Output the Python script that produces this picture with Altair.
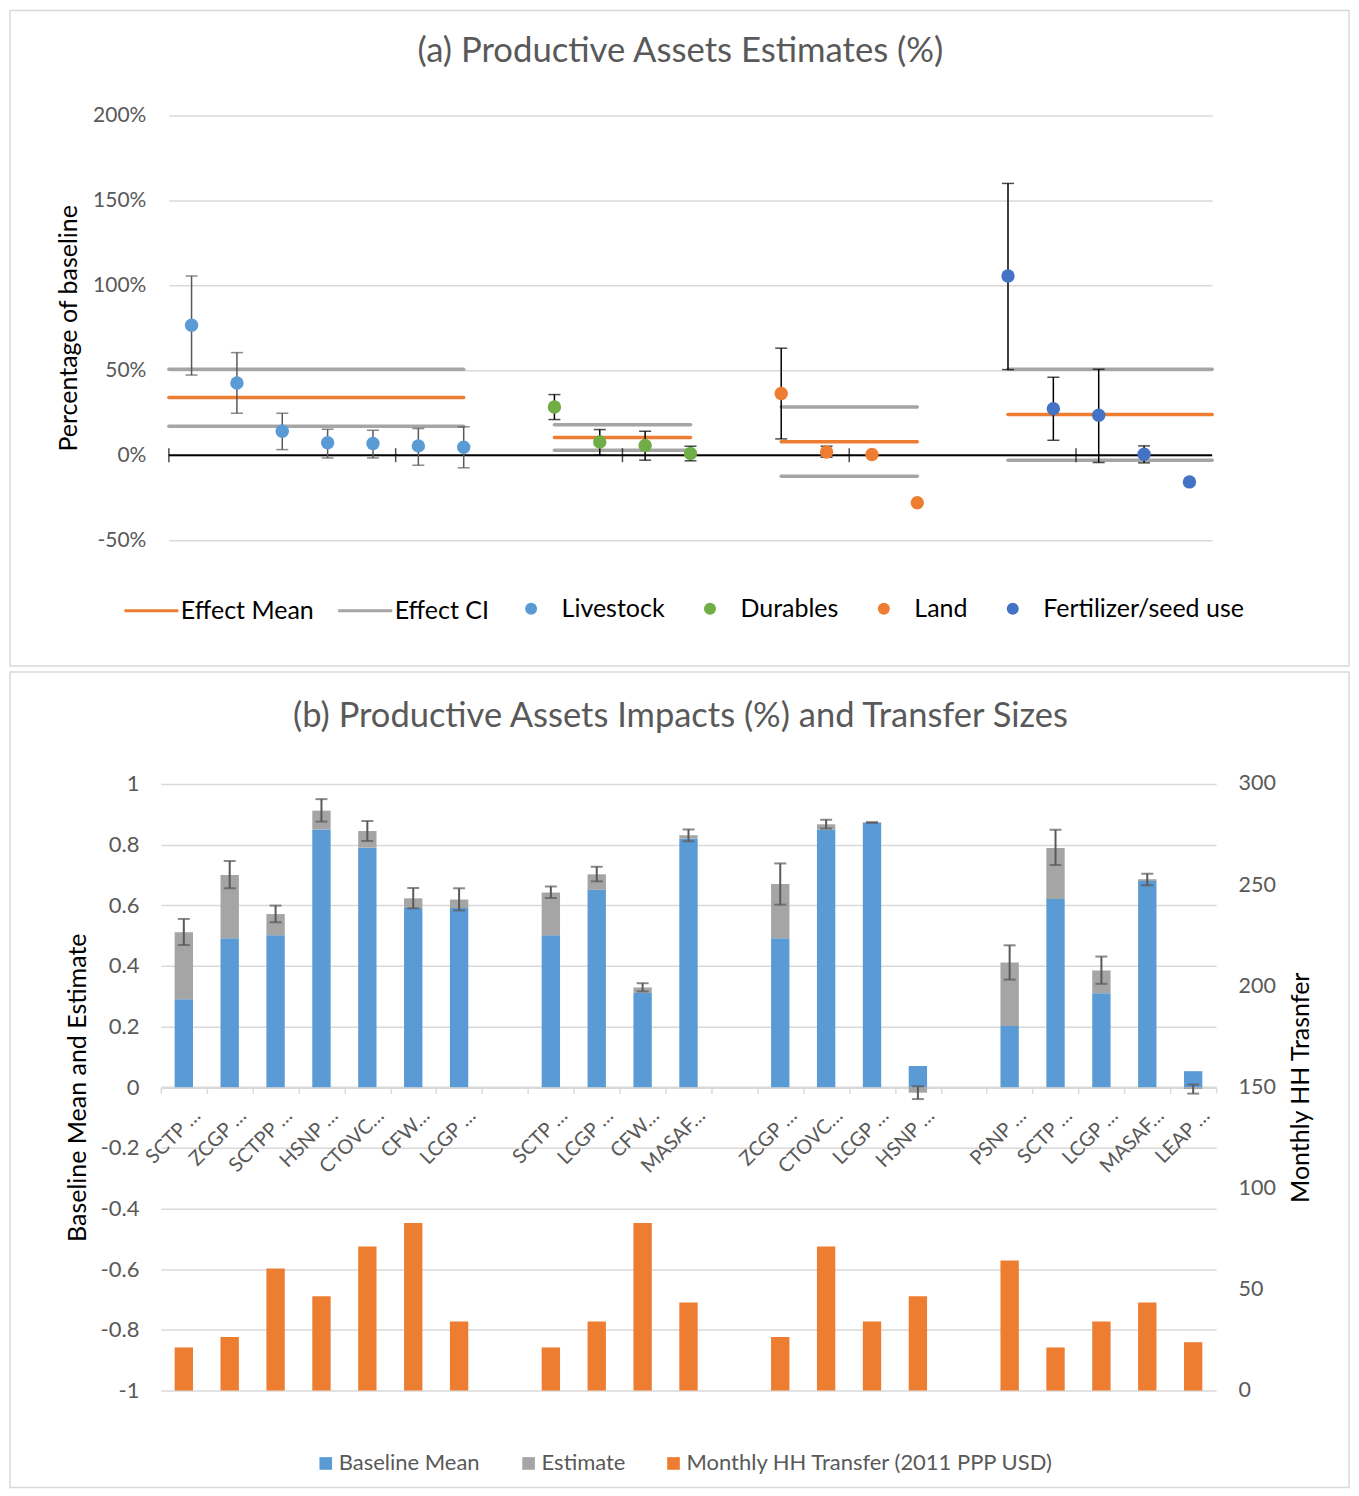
import altair as alt
import pandas as pd

FONT = "Lato"
TXT = "#595959"
GRID = "#D9D9D9"

# ---------------- Panel (a) data ----------------
series_names = ["Livestock", "Durables", "Land", "Fertilizer/seed use"]
series_colors = ["#5B9BD5", "#70AD47", "#ED7D31", "#4472C4"]
series_slots = [[0, 1, 2, 3, 4, 5, 6], [8, 9, 10, 11], [13, 14, 15, 16], [18, 19, 20, 21, 22]]

livestock = [76.5, 42.5, 14.1, 7.3, 6.9, 5.5, 4.7]
livestock_lo = [47.2, 24.7, 3.3, -1.6, -1.6, -5.9, -7.4]
livestock_hi = [105.5, 60.4, 24.7, 15.3, 14.7, 15.7, 16.7]

durables = [28.4, 7.8, 5.7, 1.0]
durables_lo = [21.0, 0.0, -2.9, -3.3]
durables_hi = [35.7, 15.1, 14.1, 5.3]

land = [36.3, 1.9, 0.4, -28.0]
land_lo = [9.6, -1.2, None, None]
land_hi = [63.0, 5.3, None, None]

fert = [105.5, 27.4, 23.5, 0.6, -15.7]
fert_lo = [50.4, 8.8, -4.3, -4.5, None]
fert_hi = [160.0, 45.9, 50.6, 5.5, None]

effect_start = [0.0, 8.5, 13.5, 18.5]
effect_end = [6.5, 11.5, 16.5, 23.0]
effect_mean = [34.0, 10.4, 8.0, 23.9]
effect_ci_lo = [17.0, 2.9, -12.4, -3.0]
effect_ci_hi = [50.6, 18.0, 28.4, 50.6]

a_ticks = [-50, 0, 50, 100, 150, 200]
zero_tick_slots = [0, 5, 10, 15, 20]

title_a = "(a) Productive Assets Estimates (%)"
title_b = "(b) Productive Assets Impacts (%) and Transfer Sizes"

# ---------------- Panel (b) data ----------------
cat_labels = ["SCTP …", "ZCGP …", "SCTPP …", "HSNP …", "CTOVC…", "CFW…", "LCGP …", "",
              "SCTP …", "LCGP …", "CFW…", "MASAF…", "",
              "ZCGP …", "CTOVC…", "LCGP …", "HSNP …", "",
              "PSNP …", "SCTP …", "LCGP …", "MASAF…", "LEAP …"]
bar_slots = [0, 1, 2, 3, 4, 5, 6, 8, 9, 10, 11, 13, 14, 15, 16, 18, 19, 20, 21, 22]
baseline = [0.290, 0.491, 0.501, 0.850, 0.790, 0.591, 0.591,
            0.501, 0.651, 0.311, 0.820,
            0.491, 0.850, 0.873, 0.070,
            0.202, 0.621, 0.310, 0.680, 0.053]
estimate = [0.221, 0.209, 0.070, 0.062, 0.055, 0.032, 0.028,
            0.141, 0.051, 0.018, 0.011,
            0.179, 0.017, 0.001, -0.018,
            0.209, 0.168, 0.075, 0.006, -0.006]
err_lo = [0.469, 0.656, 0.544, 0.876, 0.812, 0.590, 0.583,
          0.624, 0.679, 0.316, 0.811,
          0.602, 0.853, 0.872, -0.039,
          0.355, 0.733, 0.341, 0.666, -0.021]
err_hi = [0.555, 0.746, 0.599, 0.950, 0.878, 0.657, 0.656,
          0.662, 0.727, 0.343, 0.850,
          0.738, 0.882, 0.874, 0.003,
          0.468, 0.849, 0.431, 0.704, 0.009]
transfer = [21.3, 26.5, 60.3, 46.6, 71.2, 82.9, 34.1,
            21.3, 34.1, 82.9, 43.5,
            26.5, 71.2, 34.1, 46.6,
            64.3, 21.3, 34.1, 43.5, 23.9]
left_ticks = [-1, -0.8, -0.6, -0.4, -0.2, 0, 0.2, 0.4, 0.6, 0.8, 1]
right_ticks = [0, 50, 100, 150, 200, 250, 300]
b_series = ["Baseline Mean", "Estimate", "Monthly HH Transfer (2011 PPP USD)"]
b_colors = ["#5B9BD5", "#A5A5A5", "#ED7D31"]

# ---------------- build tables ----------------
rows = []
for name, slots, vals, los, his in zip(
        series_names, series_slots,
        [livestock, durables, land, fert],
        [livestock_lo, durables_lo, land_lo, fert_lo],
        [livestock_hi, durables_hi, land_hi, fert_hi]):
    for s, v, lo, hi in zip(slots, vals, los, his):
        rows.append({"series": name, "x": s + 0.5, "value": v, "lo": lo, "hi": hi})
pts = pd.DataFrame(rows)

eff_rows = []
for s, e, m, lo, hi in zip(effect_start, effect_end, effect_mean, effect_ci_lo, effect_ci_hi):
    eff_rows.append({"kind": "Effect CI", "xs": s, "xe": e, "v": lo})
    eff_rows.append({"kind": "Effect CI", "xs": s, "xe": e, "v": hi})
    eff_rows.append({"kind": "Effect Mean", "xs": s, "xe": e, "v": m})
eff = pd.DataFrame(eff_rows)

zero_df = pd.DataFrame({"xs": [0], "xe": [23], "v": [0]})
zt_df = pd.DataFrame({"xs": zero_tick_slots, "v": [0] * len(zero_tick_slots)})
one = pd.DataFrame({"t": [title_a]})
one_b = pd.DataFrame({"t": [title_b]})

W_A, H_A = 1044, 425
W_B, H_B = 1048, 607   # panel (b) shares panel (a)'s left origin; its band range starts 8px further left

ya_axis = alt.Axis(values=a_ticks, labelExpr="datum.value + '%'", grid=True, gridColor=GRID,
                   gridWidth=1.5, domain=False, ticks=False, labelPadding=23, labelFontSize=21,
                   labelColor=TXT, titleFontSize=25, titleColor="black", titleFontWeight="normal",
                   titleAngle=270, titleX=-100, titleY=H_A / 2, titleAlign="center",
                   titleBaseline="middle")
ya_scale = alt.Scale(domain=[-50, 200], nice=False, zero=False)
xa_scale = alt.Scale(domain=[0, 23], nice=False, zero=False)


def YA(field):
    return alt.Y(field, type="quantitative", scale=ya_scale, axis=ya_axis,
                 title="Percentage of baseline")


def XA(field):
    return alt.X(field, type="quantitative", scale=xa_scale, axis=None)


frame_a = alt.Chart(one).mark_rect(fill="transparent", stroke=GRID, strokeWidth=1.5).encode(
    x=alt.value(-159), x2=alt.value(1181), y=alt.value(-105), y2=alt.value(551))
ttl_a = alt.Chart(one).mark_text(fontSize=34.7, color=TXT, align="center", baseline="middle").encode(
    x=alt.value(512), y=alt.value(-64), text="t:N")

effect = alt.Chart(eff).mark_rule(strokeWidth=3.5, strokeCap="round").encode(
    x=XA("xs"), x2="xe:Q", y=YA("v"),
    stroke=alt.Stroke("kind:N", scale=alt.Scale(domain=["Effect Mean", "Effect CI"],
                                                range=["#ED7D31", "#A5A5A5"]),
                      legend=alt.Legend(orient="none", legendX=-46, legendY=467,
                                        direction="horizontal", title=None,
                                        symbolType="stroke", symbolSize=2916,
                                        symbolStrokeWidth=3, labelFontSize=25,
                                        labelColor="black", labelOffset=1,
                                        columnPadding=17, labelLimit=400)))

zero_line = alt.Chart(zero_df).mark_rule(color="black", strokeWidth=2).encode(
    x=XA("xs"), x2="xe:Q", y=YA("v"))
zero_ticks = alt.Chart(zt_df).mark_tick(orient="vertical", size=14, thickness=1.5,
                                        color="black").encode(x=XA("xs"), y=YA("v"))

err_base = alt.Chart(pts).transform_filter("isValid(datum.lo)")
err_layers = []
for flt, col in [("datum.series == 'Livestock'", "#595959"), ("datum.series != 'Livestock'", "black")]:
    b = err_base.transform_filter(flt)
    err_layers.append(b.mark_rule(color=col, strokeWidth=1.5).encode(x=XA("x"), y=YA("lo"), y2="hi:Q"))
    err_layers.append(b.mark_tick(orient="horizontal", size=12, thickness=1.5, color=col).encode(
        x=XA("x"), y=YA("lo")))
    err_layers.append(b.mark_tick(orient="horizontal", size=12, thickness=1.5, color=col).encode(
        x=XA("x"), y=YA("hi")))

points = alt.Chart(pts).mark_circle(size=180, opacity=1).encode(
    x=XA("x"), y=YA("value"),
    color=alt.Color("series:N", scale=alt.Scale(domain=series_names, range=series_colors),
                    legend=alt.Legend(orient="none", legendX=350, legendY=481,
                                      direction="horizontal", title=None, symbolType="circle",
                                      symbolSize=144, labelOffset=18, columnPadding=32,
                                      labelFontSize=25, labelColor="black", labelLimit=400)))

chart_a = alt.layer(frame_a, ttl_a, effect, zero_line, zero_ticks, *err_layers, points).properties(
    width=W_A, height=H_A)

# ---------------- Panel (b) ----------------
bars_df = pd.DataFrame({
    "slot": bar_slots * 2,
    "series": ["Baseline Mean"] * len(bar_slots) + ["Estimate"] * len(bar_slots),
    "value": baseline + estimate,
    "ord": [0] * len(bar_slots) + [1] * len(bar_slots),
})
err_df = pd.DataFrame({"slot": bar_slots, "lo": err_lo, "hi": err_hi})
tr_df = pd.DataFrame({"slot": bar_slots, "series": [b_series[2]] * len(bar_slots), "tr": transfer})

label_expr = "[" + ",".join("'" + l + "'" for l in cat_labels) + "][datum.value]"
xb_axis = alt.Axis(offset=-H_B / 2, domainColor=GRID, domainWidth=2.5, tickColor=GRID,
                   tickWidth=1.5, tickSize=6, tickBand="extent", labelAngle=315,
                   labelAlign="right", labelBaseline="middle", labelPadding=19, labelOffset=13,
                   labelFontSize=20, labelColor=TXT, labelExpr=label_expr, grid=False,
                   labelOverlap=False, title=None)
xb_scale = alt.Scale(domain=list(range(23)), range=[-8, W_B], paddingInner=0, paddingOuter=0)


def XB():
    return alt.X("slot:O", scale=xb_scale, axis=xb_axis, title=None)


yb_axis = alt.Axis(values=left_ticks, labelExpr="toString(round(datum.value*10)/10)", grid=True,
                   gridColor=GRID, gridWidth=1.5, domain=False, ticks=False, labelPadding=30,
                   labelFontSize=22, labelColor=TXT, titleFontSize=25, titleColor="black",
                   titleFontWeight="normal", titleAngle=270, titleX=-91, titleY=H_B / 2,
                   titleAlign="center", titleBaseline="middle")
yb_scale = alt.Scale(domain=[-1, 1], nice=False, zero=False)
yr_axis = alt.Axis(orient="right", values=right_ticks, grid=False, domain=False, ticks=False,
                   labelPadding=22, labelFontSize=21.5, labelColor=TXT, titleFontSize=25,
                   titleColor="black", titleFontWeight="normal", titleAngle=270, titleX=84,
                   titleY=H_B / 2, titleAlign="center", titleBaseline="middle")

color_b = alt.Color("series:N", scale=alt.Scale(domain=b_series, range=b_colors),
                    legend=alt.Legend(orient="none", legendX=146, legendY=669,
                                      direction="horizontal", title=None, symbolType="square",
                                      symbolSize=160, labelOffset=2, columnPadding=37,
                                      labelFontSize=22, labelColor=TXT, labelLimit=500))

frame_b = alt.Chart(one_b).mark_rect(fill="transparent", stroke=GRID, strokeWidth=1.5).encode(
    x=alt.value(-159), x2=alt.value(1181), y=alt.value(-112), y2=alt.value(704))
ttl_b = alt.Chart(one_b).mark_text(fontSize=34.5, color=TXT, align="center", baseline="middle").encode(
    x=alt.value(512), y=alt.value(-67), text="t:N")

bars = alt.Chart(bars_df).mark_bar(width=alt.RelativeBandSize(0.4)).encode(
    x=XB(),
    y=alt.Y("value:Q", stack="zero", scale=yb_scale, axis=yb_axis,
            title="Baseline Mean and Estimate"),
    color=color_b,
    order=alt.Order("ord:Q"))
err_rule = alt.Chart(err_df).mark_rule(color=TXT, strokeWidth=2).encode(
    x=XB(), y=alt.Y("lo:Q", scale=yb_scale, axis=yb_axis, title="Baseline Mean and Estimate"),
    y2="hi:Q")
cap_lo = alt.Chart(err_df).mark_tick(orient="horizontal", size=12, thickness=2, color=TXT).encode(
    x=XB(), y=alt.Y("lo:Q", scale=yb_scale, axis=yb_axis, title="Baseline Mean and Estimate"))
cap_hi = alt.Chart(err_df).mark_tick(orient="horizontal", size=12, thickness=2, color=TXT).encode(
    x=XB(), y=alt.Y("hi:Q", scale=yb_scale, axis=yb_axis, title="Baseline Mean and Estimate"))
left = alt.layer(bars, err_rule, cap_lo, cap_hi)

tr_bars = alt.Chart(tr_df).mark_bar(width=alt.RelativeBandSize(0.4)).encode(
    x=XB(),
    y=alt.Y("tr:Q", scale=alt.Scale(domain=[0, 300], nice=False), axis=yr_axis,
            title="Monthly HH Trasnfer"),
    color=color_b)

chart_b = alt.layer(frame_b, ttl_b, left, tr_bars).resolve_scale(y="independent").properties(
    width=W_B, height=H_B)

chart = alt.concat(chart_a, chart_b, columns=1, spacing=2).resolve_scale(
    color="independent", x="independent", y="independent").resolve_legend(
    color="independent").properties(padding=0).configure_axis(
    labelFont=FONT, titleFont=FONT).configure_legend(labelFont=FONT).configure_text(
    font=FONT).configure_view(stroke="transparent")

chart.save("out.html", embed_options={"renderer": "svg", "actions": False})
